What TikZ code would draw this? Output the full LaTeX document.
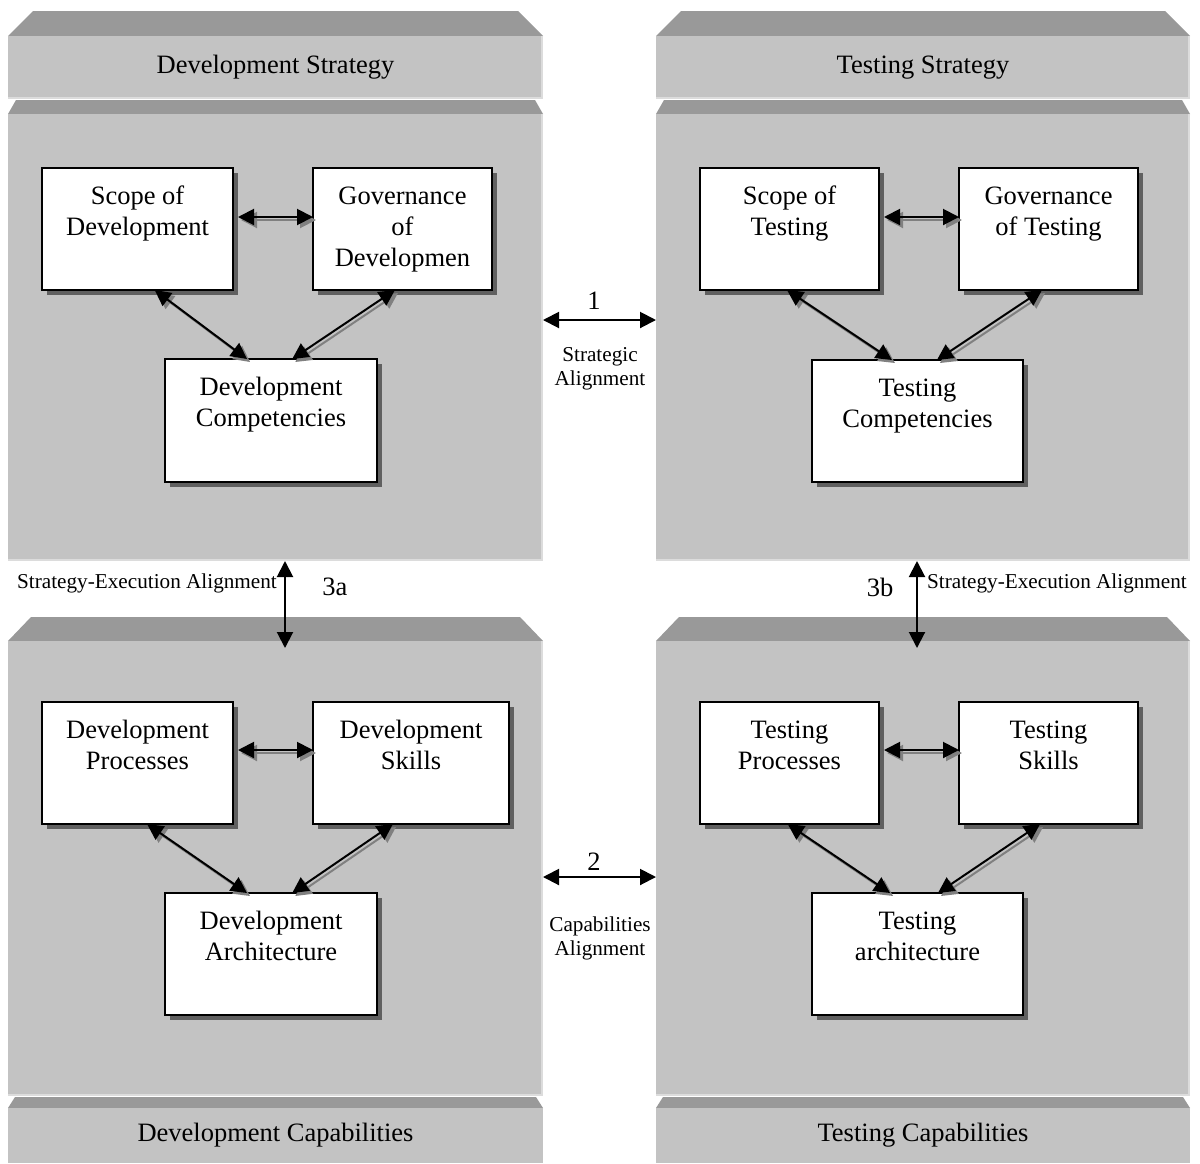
\documentclass[tikz,border=0pt]{standalone}
\usepackage{fontspec}
\setmainfont{Liberation Serif}
\usetikzlibrary{arrows.meta,shadows,calc}
\definecolor{facec}{HTML}{C3C3C3}
\definecolor{bevelc}{HTML}{999999}
\definecolor{edgec}{HTML}{DCDCDC}
\definecolor{shadc}{HTML}{606060}
\definecolor{arrshc}{HTML}{808080}
\newcommand\litedge[1]{\draw[edgec, line width=2pt] ($(#1.north east)+(-1,0)$) -- ($(#1.south east)+(-1,-1)$) -- ($(#1.south west)+(0,-1)$);}
\newcommand\duo[2]{\draw[lnk, arrshc, transform canvas={xshift=3pt,yshift=-3pt}] #1 -- #2; \draw[lnk] #1 -- #2;}
\begin{document}
\begin{tikzpicture}[x=1pt,y=-1pt,
  face/.style={fill=facec, draw=none, inner sep=0pt, outer sep=0pt, anchor=north west},
  hdr/.style={face, font=\fontsize{26.5}{31}\selectfont},
  box/.style={draw=black, line width=1.5pt, fill=white, inner sep=0pt, outer sep=0pt, anchor=north west, align=center, font=\fontsize{26.5}{31}\selectfont, drop shadow={shadow xshift=5pt, shadow yshift=-5pt, fill=shadc, opacity=1}},
  lnk/.style={line width=2pt, {Triangle[length=16pt,width=16pt]}-{Triangle[length=16pt,width=16pt]}},
  big/.style={font=\fontsize{26.5}{31}\selectfont, inner sep=0pt},
  small/.style={font=\fontsize{21.2}{24}\selectfont, inner sep=0pt, align=center}
]
\useasboundingbox (0,0) rectangle (1200,1163);
\fill[white] (0,0) rectangle (1200,1163);
% bevels
\fill[bevelc] (33,11) -- (518,11) -- (543,36) -- (8,36) -- cycle;
\fill[bevelc] (681,11) -- (1165,11) -- (1190,36) -- (656,36) -- cycle;
\fill[bevelc] (16,100) -- (535,100) -- (543,114) -- (8,114) -- cycle;
\fill[bevelc] (664,100) -- (1182,100) -- (1190,114) -- (656,114) -- cycle;
\fill[bevelc] (31,617) -- (520,617) -- (543,641) -- (8,641) -- cycle;
\fill[bevelc] (679,617) -- (1167,617) -- (1190,641) -- (656,641) -- cycle;
\fill[bevelc] (15,1097) -- (536,1097) -- (543,1108) -- (8,1108) -- cycle;
\fill[bevelc] (663,1097) -- (1183,1097) -- (1190,1108) -- (656,1108) -- cycle;
% faces
\node[hdr, minimum width=535pt, minimum height=63pt] (hdrTL) at (8,36) {Development Strategy};
\node[hdr, minimum width=534pt, minimum height=63pt] (hdrTR) at (656,36) {Testing Strategy};
\node[face, minimum width=535pt, minimum height=447pt] (bodyTL) at (8,114) {};
\node[face, minimum width=534pt, minimum height=447pt] (bodyTR) at (656,114) {};
\node[face, minimum width=535pt, minimum height=455pt] (bodyBL) at (8,641) {};
\node[face, minimum width=534pt, minimum height=455pt] (bodyBR) at (656,641) {};
\node[hdr, minimum width=535pt, minimum height=55pt] (hdrBL) at (8,1108) {Development Capabilities};
\node[hdr, minimum width=534pt, minimum height=55pt] (hdrBR) at (656,1108) {Testing Capabilities};
\litedge{hdrTL}\litedge{hdrTR}\litedge{bodyTL}\litedge{bodyTR}\litedge{bodyBL}\litedge{bodyBR}
% boxes
\node[box, minimum width=191pt, minimum height=122pt] (scopeD) at (42,168) {\strut Scope of\\\strut Development\\\strut};
\node[box, minimum width=179pt, minimum height=122pt] (govD) at (313,168) {\strut Governance\\\strut of\\\strut Developmen};
\node[box, minimum width=212pt, minimum height=123pt] (compD) at (165,359) {\strut Development\\\strut Competencies\\\strut};
\node[box, minimum width=179pt, minimum height=122pt] (scopeT) at (700,168) {\strut Scope of\\\strut Testing\\\strut};
\node[box, minimum width=179pt, minimum height=122pt] (govT) at (959,168) {\strut Governance\\\strut of Testing\\\strut};
\node[box, minimum width=211pt, minimum height=122pt] (compT) at (812,360) {\strut Testing\\\strut Competencies\\\strut};
\node[box, minimum width=191pt, minimum height=122pt] (procD) at (42,702) {\strut Development\\\strut Processes\\\strut};
\node[box, minimum width=196pt, minimum height=122pt] (skillD) at (313,702) {\strut Development\\\strut Skills\\\strut};
\node[box, minimum width=212pt, minimum height=122pt] (archD) at (165,893) {\strut Development\\\strut Architecture\\\strut};
\node[box, minimum width=179pt, minimum height=122pt] (procT) at (700,702) {\strut Testing\\\strut Processes\\\strut};
\node[box, minimum width=179pt, minimum height=122pt] (skillT) at (959,702) {\strut Testing\\\strut Skills\\\strut};
\node[box, minimum width=211pt, minimum height=122pt] (archT) at (812,893) {\strut Testing\\\strut architecture\\\strut};
% helper coordinates
\coordinate (hy1) at (0,217);
\coordinate (hy2) at (0,750);
\coordinate (my1) at (0,320);
\coordinate (my2) at (0,877);
\coordinate (vx1) at (285,0);
\coordinate (vx2) at (917,0);
% inner arrows (top-left)
\duo{($(scopeD.east |- hy1)+(5,0)$)}{(govD.west |- hy1)}
\duo{($(scopeD.south west)!0.59!(scopeD.south east)$)}{($(compD.north west)!0.387!(compD.north east)$)}
\duo{($(govD.south west)!0.458!(govD.south east)$)}{($(compD.north west)!0.6!(compD.north east)$)}
% top-right
\duo{($(scopeT.east |- hy1)+(5,0)$)}{(govT.west |- hy1)}
\duo{($(scopeT.south west)!0.486!(scopeT.south east)$)}{($(compT.north west)!0.379!(compT.north east)$)}
\duo{($(govT.south west)!0.464!(govT.south east)$)}{($(compT.north west)!0.592!(compT.north east)$)}
% bottom-left
\duo{($(procD.east |- hy2)+(5,0)$)}{(skillD.west |- hy2)}
\duo{($(procD.south west)!0.55!(procD.south east)$)}{($(archD.north west)!0.387!(archD.north east)$)}
\duo{($(skillD.south west)!0.408!(skillD.south east)$)}{($(archD.north west)!0.6!(archD.north east)$)}
% bottom-right
\duo{($(procT.east |- hy2)+(5,0)$)}{(skillT.west |- hy2)}
\duo{($(procT.south west)!0.49!(procT.south east)$)}{($(archT.north west)!0.37!(archT.north east)$)}
\duo{($(skillT.south west)!0.453!(skillT.south east)$)}{($(archT.north west)!0.597!(archT.north east)$)}
% alignment arrows
\draw[lnk] (bodyTL.east |- my1) -- (bodyTR.west |- my1);
\draw[lnk] (bodyBL.east |- my2) -- (bodyBR.west |- my2);
\draw[lnk] (vx1 |- bodyTL.south) -- ($(vx1 |- bodyBL.north)+(0,7)$);
\draw[lnk] (vx2 |- bodyTR.south) -- ($(vx2 |- bodyBR.north)+(0,7)$);
% labels
\node[big] (n1) at (594,301) {1};
\node[small] (sa) at (600,369) {Strategic\\Alignment};
\node[big] (n2) at (594,862) {2};
\node[small] (ca) at (600,938) {Capabilities\\Alignment};
\node[small] (sea) at (147,583) {Strategy-Execution Alignment};
\node[big] (n3a) at (335,587) {3a};
\node[big] (n3b) at (880,587) {3b};
\node[small] (seb) at (1057,583) {Strategy-Execution Alignment};
\end{tikzpicture}
\end{document}
